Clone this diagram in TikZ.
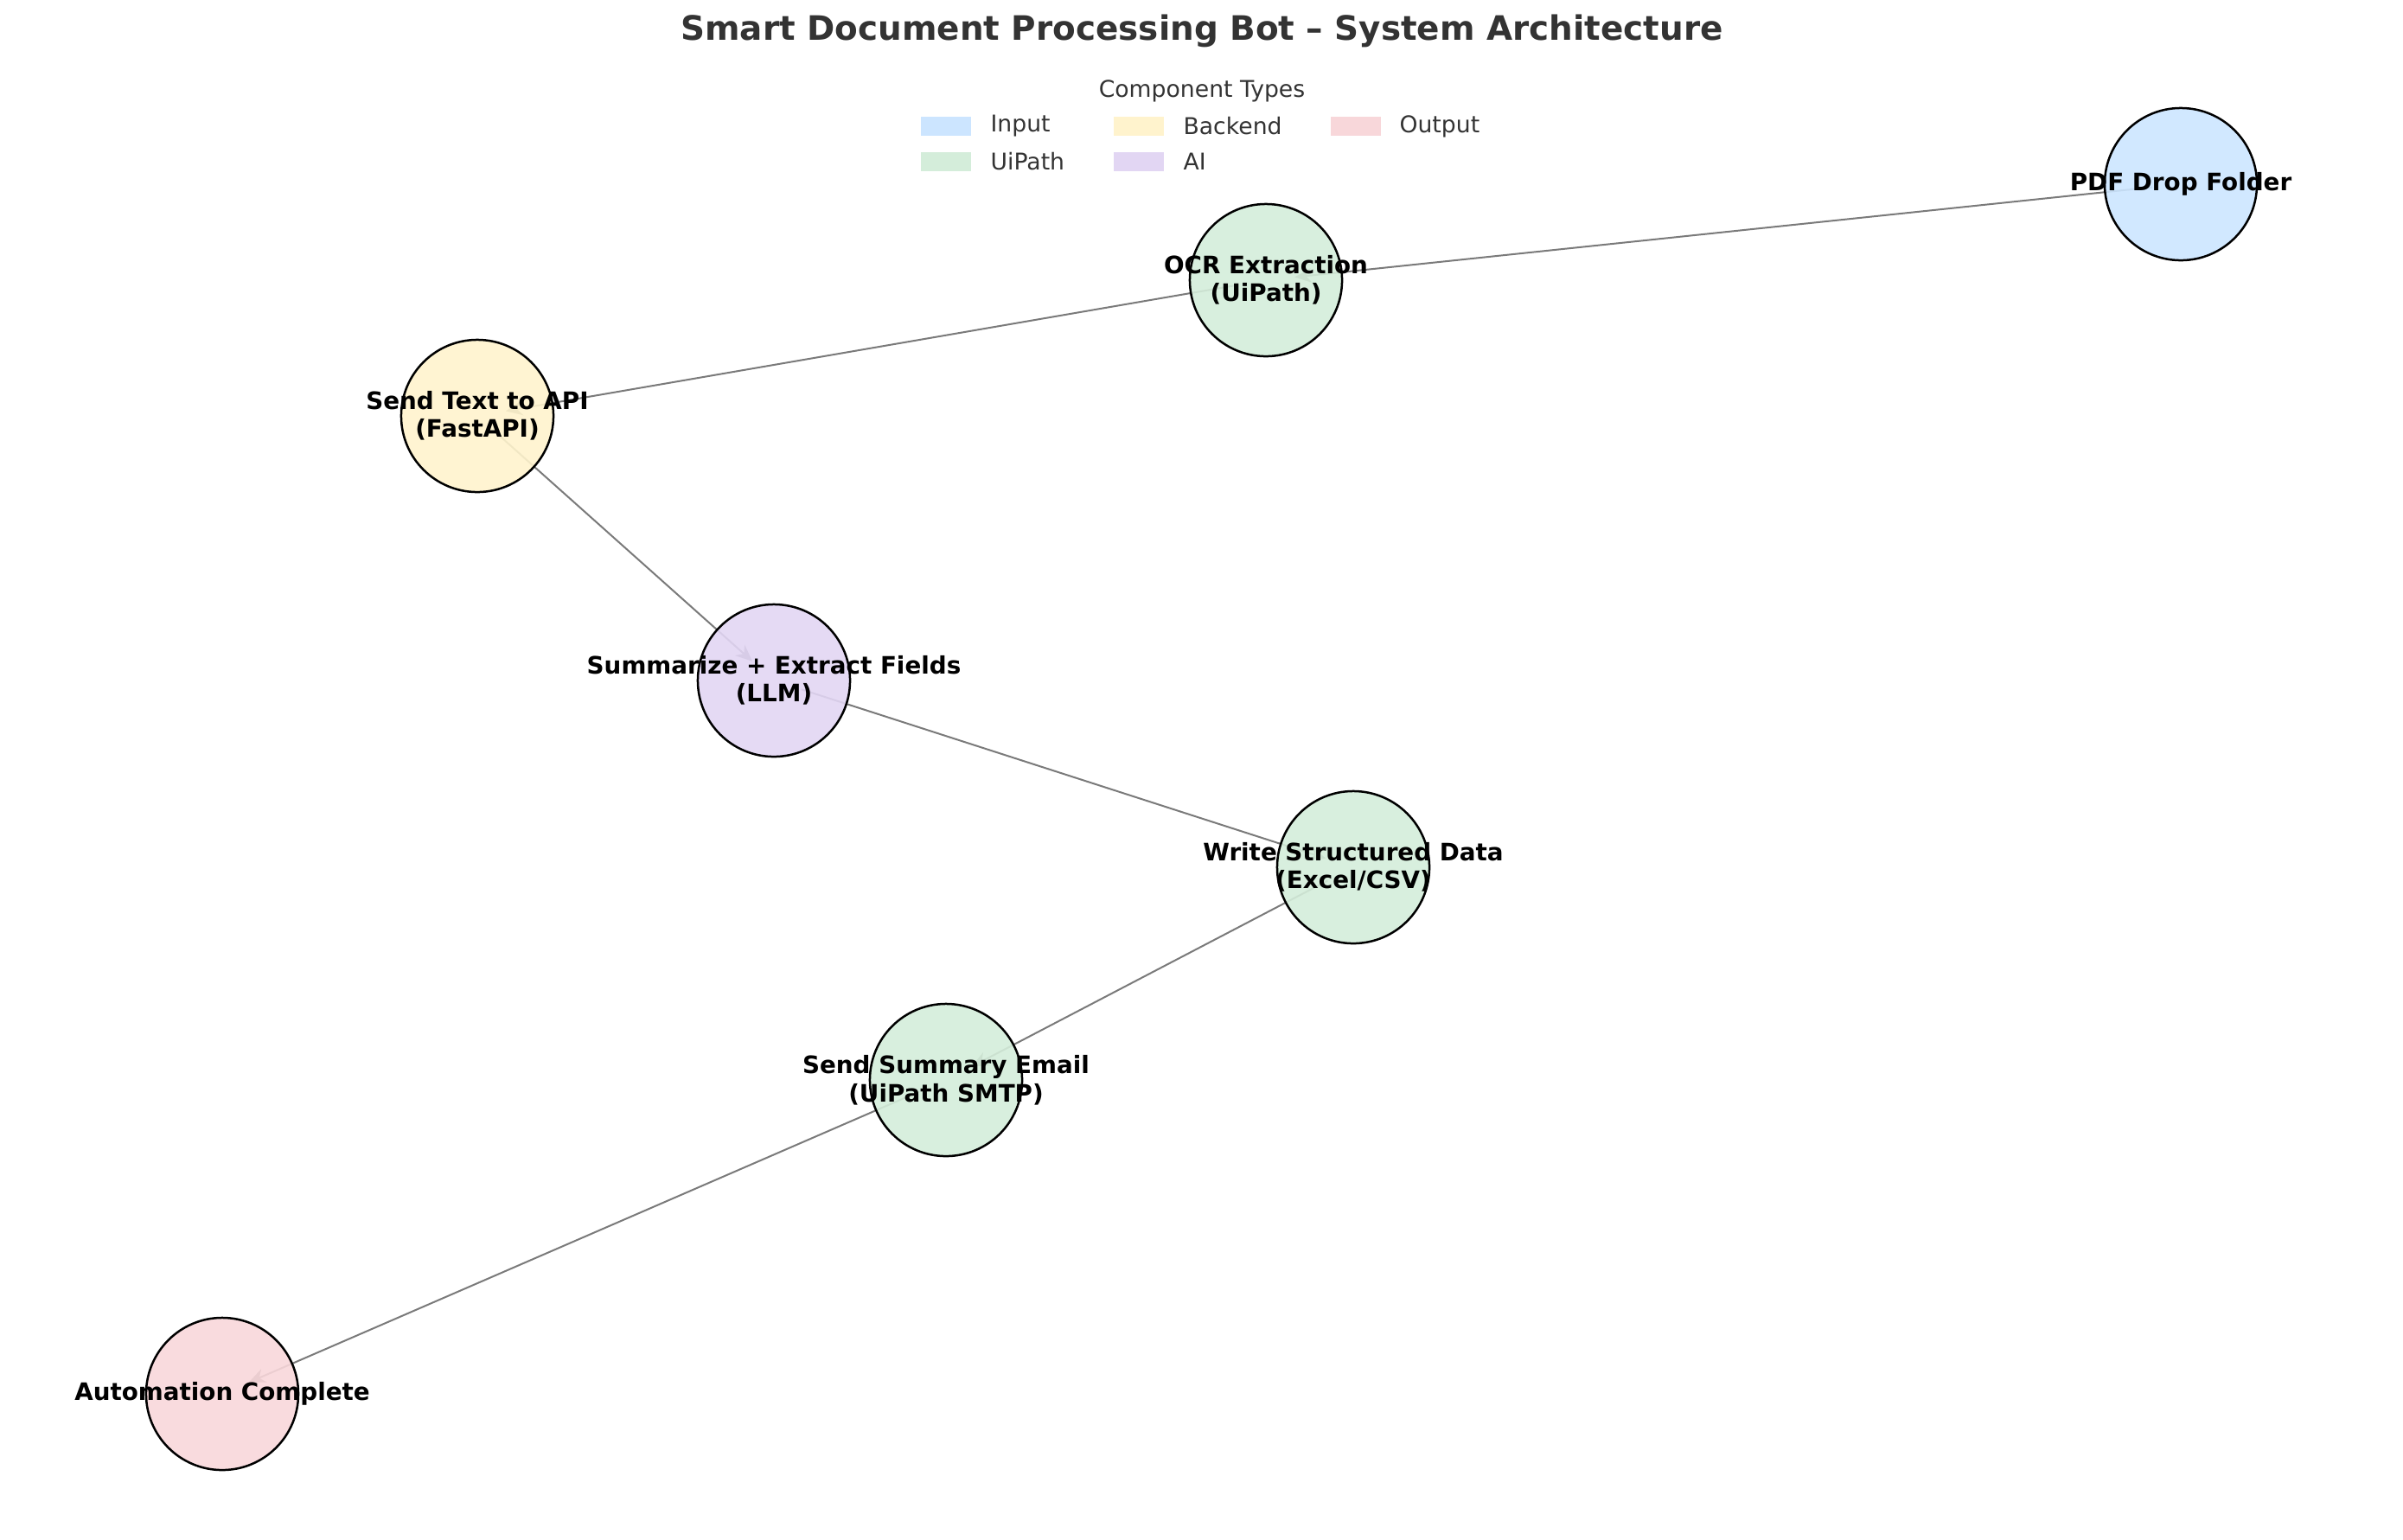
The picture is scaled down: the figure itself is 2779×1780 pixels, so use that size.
\documentclass[tikz,border=0pt]{standalone}
\usepackage{fontspec}
\setmainfont{DejaVu Sans}
\usetikzlibrary{arrows.meta,backgrounds}
\definecolor{inputc}{HTML}{CCE5FF}
\definecolor{uipathc}{HTML}{D4EDDA}
\definecolor{backendc}{HTML}{FFF3CD}
\definecolor{aic}{HTML}{E2D6F3}
\definecolor{outputc}{HTML}{F8D7DA}
\definecolor{titlec}{HTML}{333333}
\definecolor{edgec}{HTML}{7A7A7A}
\begin{document}
\begin{tikzpicture}[x=0.36pt, y=-0.36pt,
    component/.style ={circle, draw=black, line width=0.9pt, fill opacity=0.9, inner sep = 0pt, minimum size=63.4pt},
    caption/.style ={align=center, inner sep=0pt, font=\fontsize{10}{11.7}\selectfont\bfseries},
    flow/.style ={draw=edgec, line width=0.72pt, -{Stealth[length=7pt, width=6pt]}, shorten <=12pt, shorten >=12pt},
    swatch/.style ={minimum width=21pt, minimum height=7.9pt, inner sep=0pt},
    legtext/.style ={anchor=west, inner sep=0pt, text=titlec, font=\fontsize{9.6}{11.5}\selectfont}]
   \useasboundingbox (0,0) rectangle (2779,1780);
   % title and legend
   \node[text=titlec, font=\fontsize{14}{17}\selectfont\bfseries] (title) at (1390,36) {Smart Document Processing Bot – System Architecture};
   \node[text=titlec, font=\fontsize{9.6}{11.5}\selectfont] (legtitle) at (1390,105) {Component Types};
   \node[swatch, fill=inputc]   (sw1) at (1094,146) {};
   \node[legtext] (lg1) at (1145,146) {Input};
   \node[swatch, fill=uipathc]  (sw2) at (1094,187) {};
   \node[legtext] (lg2) at (1145,187) {UiPath};
   \node[swatch, fill=backendc] (sw3) at (1317,146) {};
   \node[legtext] (lg3) at (1368,146) {Backend};
   \node[swatch, fill=aic]      (sw4) at (1317,187) {};
   \node[legtext] (lg4) at (1368,187) {AI};
   \node[swatch, fill=outputc]  (sw5) at (1568,146) {};
   \node[legtext] (lg5) at (1618,146) {Output};

   % components
   \node[component, fill=inputc]   (pdf)   at (2522,213)  {};
   \node[component, fill=uipathc]  (ocr)   at (1464,324)  {};
   \node[component, fill=backendc] (api)   at (552,481)   {};
   \node[component, fill=aic]      (llm)   at (895,787)   {};
   \node[component, fill=uipathc]  (excel) at (1565,1003) {};
   \node[component, fill=uipathc]  (mail)  at (1094,1249) {};
   \node[component, fill=outputc]  (done)  at (257,1612)  {};

   \node[caption] (pdf-t)   at (pdf)   {PDF Drop Folder};
   \node[caption] (ocr-t)   at (ocr)   {OCR Extraction\\(UiPath)};
   \node[caption] (api-t)   at (api)   {Send Text to API\\(FastAPI)};
   \node[caption] (llm-t)   at (llm)   {Summarize + Extract Fields\\(LLM)};
   \node[caption] (excel-t) at (excel) {Write Structured Data\\(Excel/CSV)};
   \node[caption] (mail-t)  at (mail)  {Send Summary Email\\(UiPath SMTP)};
   \node[caption] (done-t)  at (done)  {Automation Complete};

   \begin{pgfonlayer}{background}
   \draw[flow] (pdf.center) to (ocr.center);
   \draw[flow] (ocr.center) to (api.center);
   \draw[flow] (api.center) to (llm.center);
   \draw[flow] (llm.center) to (excel.center);
   \draw[flow] (excel.center) to (mail.center);
   \draw[flow] (mail.center) to (done.center);
   \end{pgfonlayer}
 \end{tikzpicture}
\end{document}
